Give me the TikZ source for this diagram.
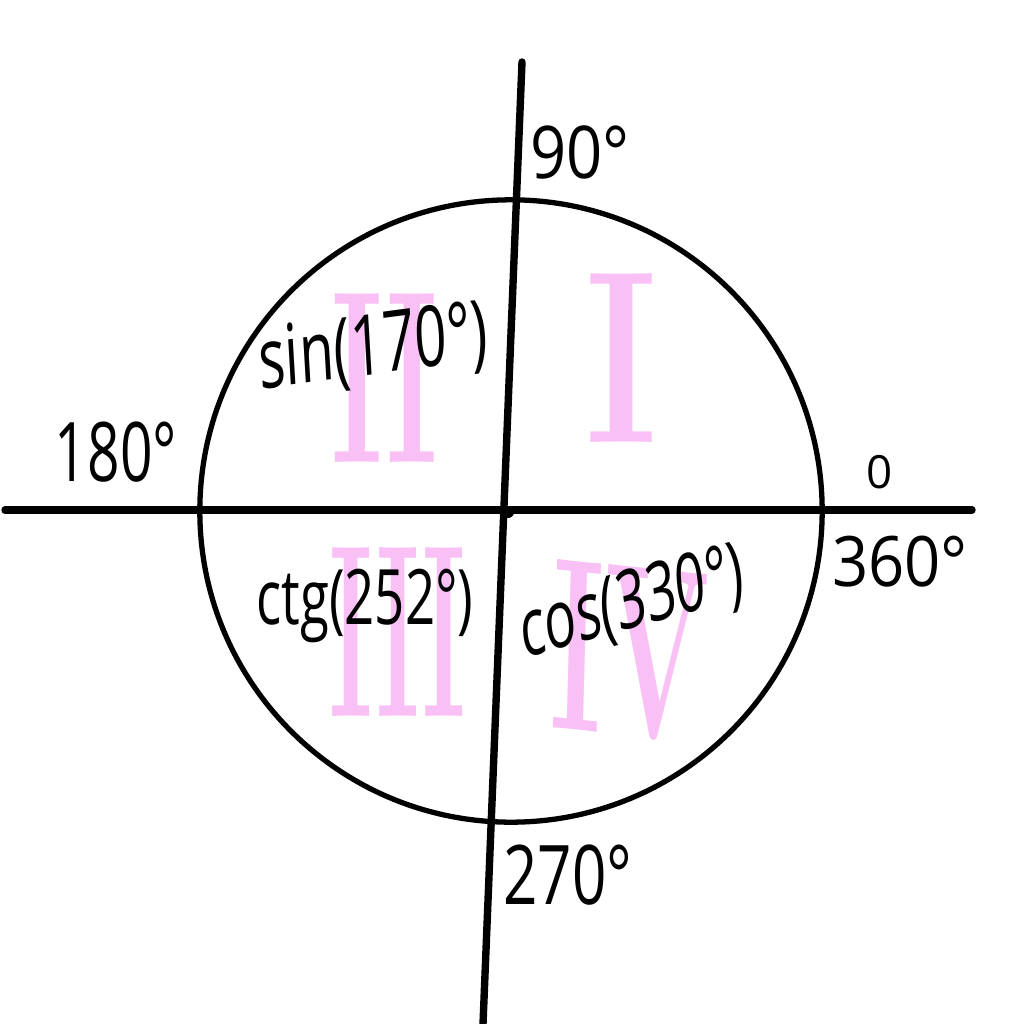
\documentclass[tikz,border=0pt]{standalone}
\usepackage{fontspec}
\newfontfamily\hand{Open Sans}
\begin{document}
\begin{tikzpicture}[x=0.01cm,y=-0.01cm,
  lab/.style={font=\hand\fontsize{18}{22}\selectfont, inner sep=0pt, text=black},
  roman/.style={font=\rmfamily\bfseries\fontsize{70}{80}\selectfont, inner sep=0pt, text={rgb,255:red,248;green,192;blue,244}},
  axis/.style={line width=2.1pt, line cap=round}]
\useasboundingbox[fill=white] (0,0) rectangle (1024,1024);
% pink quadrant numerals
\node[roman, xscale=0.7] (qI) at (622,358) {I};
\node[roman, xscale=0.5] (qII) at (385,378) {II};
\node[roman, xscale=0.42] (qIII) at (398,632) {III};
\node[roman, xscale=0.5, rotate=-3] (qIV) at (630,652) {IV};
% circle
\node[circle, draw, line width=1.5pt, minimum size=6.22cm, inner sep=0pt] (circ) at (511,511) {};
% axes
\coordinate (L) at (5,510);
\coordinate (R) at (972,510);
\coordinate (T) at (522,62);
\coordinate (B) at (483,1024);
\draw[axis] (L) -- (R);
\draw[axis] (T) -- (B);
\fill (508,512) circle [radius=0.06cm];
% angle labels
\node[lab, yscale=1.15] (a90) at (580,152) {90°};
\node[lab, xscale=0.9, yscale=1.3] (a180) at (116,452) {180°};
\node[lab, font=\hand\fontsize{13}{16}\selectfont] (a0) at (880,472) {0};
\node[lab, yscale=1.1] (a360) at (900,562) {360°};
\node[lab, xscale=0.95, yscale=1.3] (a270) at (568,875) {270°};
% function labels
\node[lab, font=\hand\fontsize{16}{20}\selectfont, yscale=1.5, rotate=5] (fsin) at (373,350) {sin(170°)};
\node[lab, font=\hand\fontsize{15}{18}\selectfont, yscale=1.45] (fctg) at (365,606) {ctg(252°)};
\node[lab, font=\hand\fontsize{15}{18}\selectfont, yscale=1.55, rotate=10] (fcos) at (632,605) {cos(330°)};
\end{tikzpicture}
\end{document}
